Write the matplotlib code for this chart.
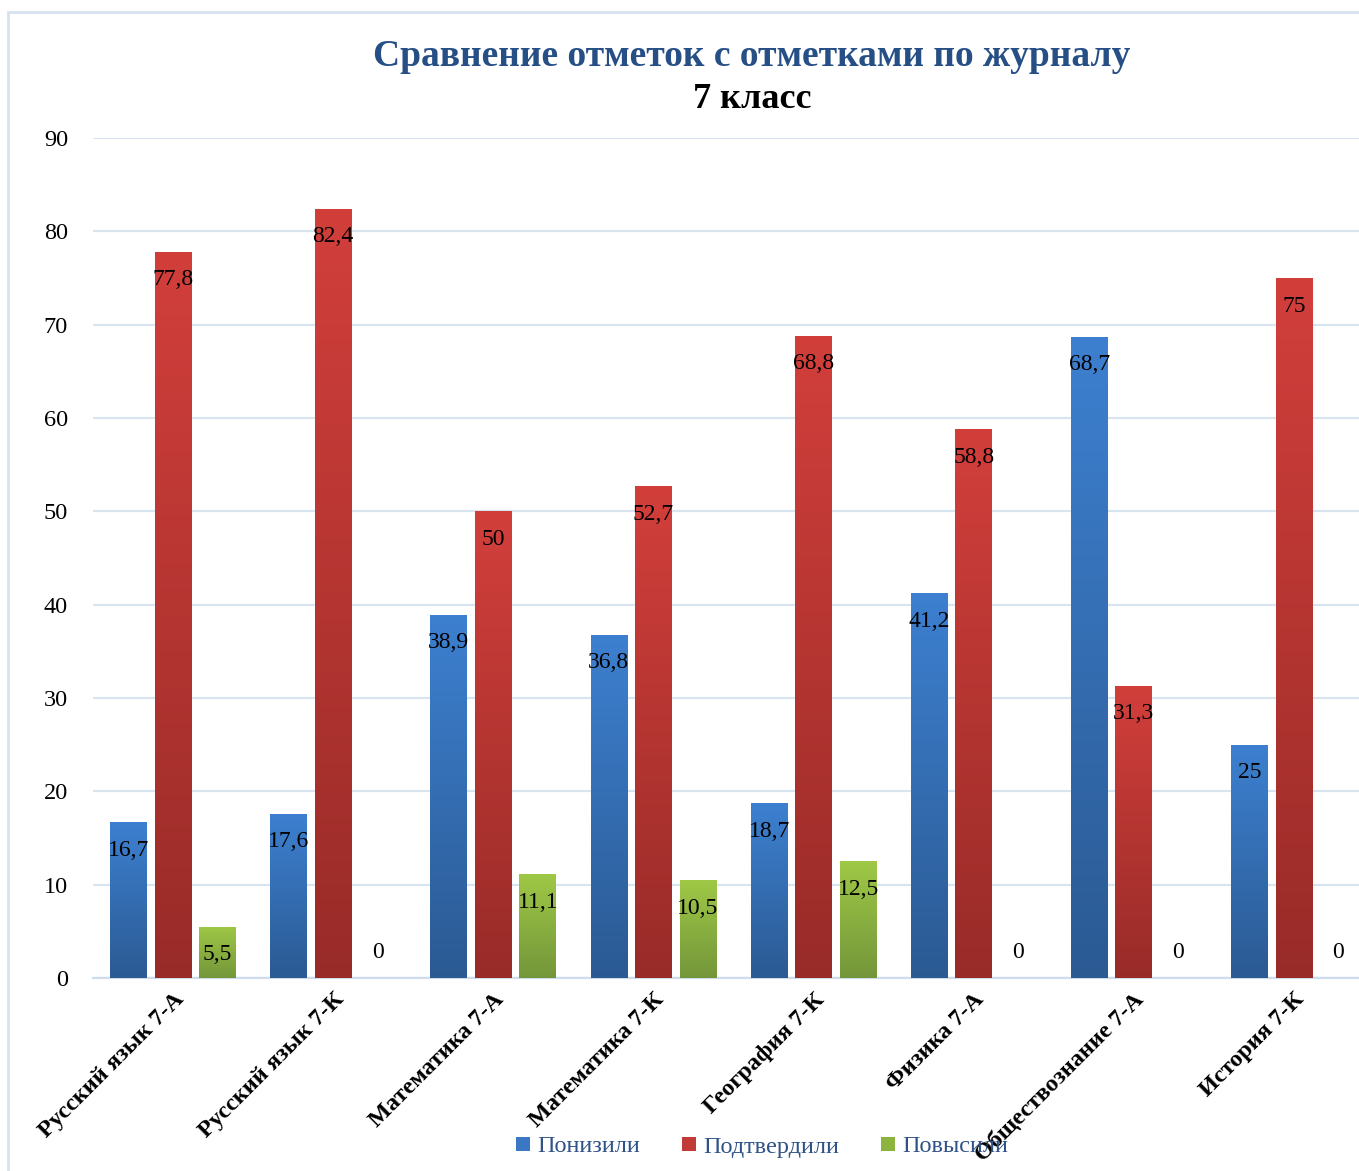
import matplotlib
matplotlib.use("Agg")
import matplotlib.pyplot as plt
import numpy as np
from matplotlib.colors import LinearSegmentedColormap
from matplotlib.patches import Rectangle, Patch

categories = ["Русский язык 7-А", "Русский язык 7-К", "Математика 7-А", "Математика 7-К",
              "География 7-К", "Физика 7-А", "Обществознание 7-А", "История 7-К"]
lowered = [16.7, 17.6, 38.9, 36.8, 18.7, 41.2, 68.7, 25]
confirmed = [77.8, 82.4, 50, 52.7, 68.8, 58.8, 31.3, 75]
raised = [5.5, 0, 11.1, 10.5, 12.5, 0, 0, 0]
series_names = ["Понизили", "Подтвердили", "Повысили"]
yticks = [0, 10, 20, 30, 40, 50, 60, 70, 80, 90]

grads = [("#3D80D0", "#2B5A93"), ("#D23F3B", "#982B28"), ("#9FC846", "#74963A")]
legend_cols = ["#3A78C4", "#C23A36", "#8DB43F"]

plt.rcParams['font.family'] = ['Liberation Serif', 'DejaVu Serif']

W, H = 1359, 1171
fig = plt.figure(figsize=(W / 100, H / 100), dpi=100)
ax_left, ax_right = 93, 1374
ax_top, ax_bot = 138, 978
ax = fig.add_axes([ax_left / W, 1 - ax_bot / H, (ax_right - ax_left) / W, (ax_bot - ax_top) / H])

# frame border
fig.patches.append(Rectangle((8 / W, -0.1), 1.2, 1 - 12 / H + 0.1, transform=fig.transFigure,
                             fill=False, edgecolor="#D6E2F0", linewidth=2, zorder=0))

x = np.arange(len(categories))
bw = 0.23
off = 0.278

def fmt(v):
    if float(v).is_integer():
        return str(int(v))
    return f"{v:.1f}".replace(".", ",")

for i, (vals, (ctop, cbot)) in enumerate(zip([lowered, confirmed, raised], grads)):
    cmap = LinearSegmentedColormap.from_list(f"g{i}", [cbot, ctop])
    grad = np.linspace(0, 1, 256).reshape(-1, 1)
    xs = x + (i - 1) * off
    bars = ax.bar(xs, vals, width=bw, facecolor="none", edgecolor="none", zorder=3)
    for b, v in zip(bars, vals):
        if v > 0:
            x0 = b.get_x()
            im = ax.imshow(grad, cmap=cmap, origin="lower", aspect="auto",
                           extent=[x0, x0 + b.get_width(), 0, v], zorder=3)
            im.set_clip_path(b)
        dy = -28 if v > 0 else 25
        ax.annotate(fmt(v), (b.get_x() + b.get_width() / 2, v), xytext=(0, dy * 0.72),
                    textcoords="offset points", ha="center", va="center",
                    fontsize=17, color="black", zorder=5)

ax.set_xlim(-0.5, len(categories) - 0.5)
ax.set_ylim(0, 90)
ax.set_yticks(yticks)
ax.set_yticklabels([str(t) for t in yticks], fontsize=17.5)
ax.yaxis.grid(True, color="#D9E4F1", linewidth=1.6, zorder=0)
ax.set_axisbelow(True)
for s in ["top", "right", "left"]:
    ax.spines[s].set_visible(False)
ax.spines["bottom"].set_color("#CFDCEC")
ax.spines["bottom"].set_linewidth(1.6)
ax.tick_params(axis="y", length=0, pad=18)
ax.tick_params(axis="x", length=0, pad=8)
ax.set_xticks(x)
ax.set_xticklabels(categories, rotation=45, ha="right", rotation_mode="anchor",
                   fontsize=17.5, fontweight="bold")

fig.text(752 / W, 1 - 56 / H, "Сравнение отметок с отметками по журналу", ha="center", va="center",
         fontsize=27, fontweight="bold", color="#264F86")
fig.text(752 / W, 1 - 100 / H, "7 класс", ha="center", va="center",
         fontsize=26, fontweight="bold", color="black")

handles = [Patch(facecolor=c, edgecolor="none") for c in legend_cols]
leg = fig.legend(handles, series_names, loc="center", bbox_to_anchor=(762 / W, 1 - 1147 / H),
                 ncol=3, frameon=False, fontsize=17.5, handlelength=0.55, handleheight=0.55,
                 handletextpad=0.3, columnspacing=1.75)
for t in leg.get_texts():
    t.set_color("#2F5287")

fig.savefig("out.png", dpi=100)
